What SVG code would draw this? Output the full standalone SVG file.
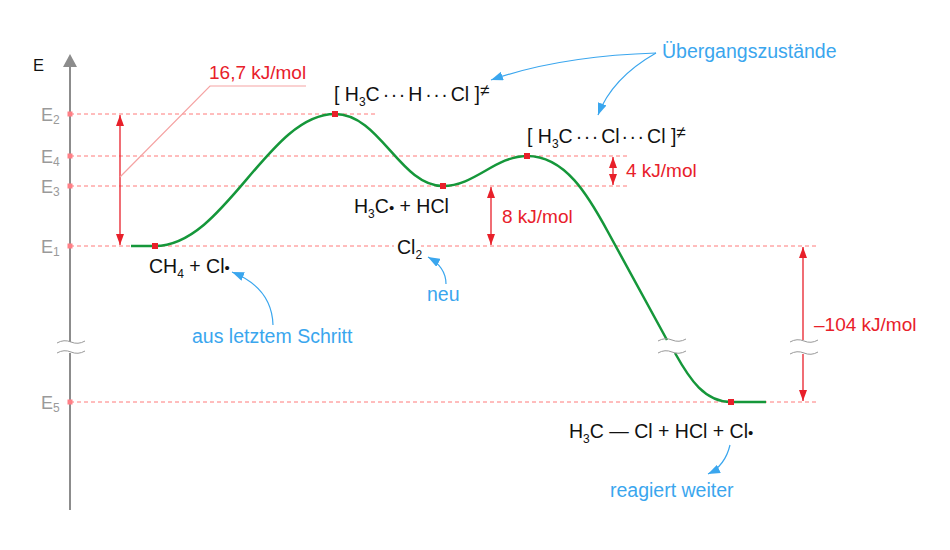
<svg xmlns="http://www.w3.org/2000/svg" width="950" height="550" viewBox="0 0 950 550">
<defs>
<style>
text{font-family:"Liberation Sans",Arial,sans-serif;}
.lbl{font-size:19.5px;fill:#111;}
.blue{font-size:19.5px;fill:#3aa6ee;}
.red{font-size:19px;fill:#e8202a;}
.elab{font-size:18px;fill:#9a9a9a;}
.sub{font-size:12px;}
.dots{letter-spacing:1.5px;}
.bul{font-size:15px;}
.dash{stroke:#ff7b7b;stroke-width:1;stroke-dasharray:4 3;fill:none;}
.lvl{fill:#ff7f86;}
.pt{fill:#e8202a;}
.curve{stroke:#15973a;stroke-width:2.5;fill:none;}
.dim{stroke:#e8202a;stroke-width:1.3;fill:none;}
.note{stroke:#3aa6ee;stroke-width:1.2;fill:none;marker-end:url(#ba);}
.wave{stroke:#999;stroke-width:1;fill:none;}
</style>
<marker id="ra" viewBox="0 0 11 8" refX="11" refY="4" markerWidth="11" markerHeight="8" markerUnits="userSpaceOnUse" orient="auto-start-reverse"><path d="M0,0 L11,4 L0,8 z" fill="#e8202a"/></marker>
<marker id="ba" viewBox="0 0 12 9" refX="12" refY="4.5" markerWidth="12" markerHeight="9" markerUnits="userSpaceOnUse" orient="auto"><path d="M0,0 L12,4.5 L0,9 z" fill="#3aa6ee"/></marker>
</defs>
<rect width="950" height="550" fill="#fff"/>

<g id="levels">
<line class="dash" x1="70" y1="114" x2="378" y2="114"/>
<line class="dash" x1="70" y1="156" x2="627" y2="156"/>
<line class="dash" x1="70" y1="186" x2="627" y2="186"/>
<line class="dash" x1="70" y1="246" x2="816" y2="246"/>
<line class="dash" x1="70" y1="402" x2="816" y2="402"/>
<rect x="394" y="239" width="27" height="11" fill="#fff"/>
</g>

<g id="axis">
<line x1="70" y1="62" x2="70" y2="342" stroke="#8c8c8c" stroke-width="2"/>
<line x1="70" y1="353" x2="70" y2="510" stroke="#8c8c8c" stroke-width="2"/>
<path d="M70,54 L63,67 L77,67 z" fill="#8c8c8c"/>
<path class="wave" d="M57,343 Q64,339 71,342 T85,341"/>
<path class="wave" d="M57,353 Q64,349 71,352 T85,351"/>
<text x="33" y="71" style="font-size:16.5px;fill:#111">E</text>
<rect class="lvl" x="67.5" y="111.5" width="5" height="5"/>
<rect class="lvl" x="67.5" y="153.5" width="5" height="5"/>
<rect class="lvl" x="67.5" y="183.5" width="5" height="5"/>
<rect class="lvl" x="67.5" y="243.5" width="5" height="5"/>
<rect class="lvl" x="67.5" y="399.5" width="5" height="5"/>
<text class="elab" x="41" y="121">E<tspan class="sub" dy="3">2</tspan></text>
<text class="elab" x="41" y="163">E<tspan class="sub" dy="3">4</tspan></text>
<text class="elab" x="41" y="193">E<tspan class="sub" dy="3">3</tspan></text>
<text class="elab" x="41" y="253">E<tspan class="sub" dy="3">1</tspan></text>
<text class="elab" x="41" y="409">E<tspan class="sub" dy="3">5</tspan></text>
</g>

<g id="curve">
<path class="curve" d="M131,246 L155,246 C225,246 268,114 335,114 C380,114 400,186 443,186 C475,186 495,156 527,156 C565,156 588,195 608,232 L667,340"/>
<path class="curve" d="M675,353 C690,380 705,402 731,402 L766,402"/>
<path class="wave" d="M658,341 Q665,337 672,340 T686,339"/>
<path class="wave" d="M658,353 Q665,349 672,352 T686,351"/>
<rect class="pt" x="152" y="243" width="6" height="6"/>
<rect class="pt" x="332" y="111" width="6" height="6"/>
<rect class="pt" x="440" y="183" width="6" height="6"/>
<rect class="pt" x="524" y="153" width="6" height="6"/>
<rect class="pt" x="728" y="399" width="6" height="6"/>
</g>

<g id="dimensions">
<line class="dim" x1="120" y1="115" x2="120" y2="245" marker-start="url(#ra)" marker-end="url(#ra)"/>
<path d="M306,86 L210,86 L120,177" stroke="#f5a3a3" stroke-width="1.2" fill="none"/>
<text class="red" x="209" y="79">16,7 kJ/mol</text>
<line class="dim" x1="491" y1="187" x2="491" y2="245" marker-start="url(#ra)" marker-end="url(#ra)"/>
<text class="red" x="502" y="223">8 kJ/mol</text>
<line class="dim" x1="613" y1="157" x2="613" y2="185" marker-start="url(#ra)" marker-end="url(#ra)"/>
<text class="red" x="626" y="177">4 kJ/mol</text>
<line class="dim" x1="803" y1="247" x2="803" y2="340" marker-start="url(#ra)"/>
<line class="dim" x1="803" y1="354" x2="803" y2="401" marker-end="url(#ra)"/>
<path class="wave" d="M790,342 Q797,338 804,341 T818,340"/>
<path class="wave" d="M790,354 Q797,350 804,353 T818,352"/>
<text class="red" x="814" y="331">–104 kJ/mol</text>
</g>

<g id="species">
<text class="lbl" x="334" y="101">[ H<tspan class="sub" dy="5">3</tspan><tspan dy="-5">C</tspan><tspan class="dots" dx="3">···</tspan><tspan dx="1.5">H</tspan><tspan class="dots" dx="3">···</tspan><tspan dx="1.5">Cl ]</tspan><tspan dy="-5" style="font-size:17px">≠</tspan></text>
<text class="lbl" x="527" y="143">[ H<tspan class="sub" dy="5">3</tspan><tspan dy="-5">C</tspan><tspan class="dots" dx="3">···</tspan><tspan dx="1.5">Cl</tspan><tspan class="dots" dx="2">···</tspan><tspan dx="1.5">Cl ]</tspan><tspan dy="-5" style="font-size:17px">≠</tspan></text>
<text class="lbl" x="354" y="213">H<tspan class="sub" dy="5">3</tspan><tspan dy="-5">C</tspan><tspan class="bul">•</tspan> + HCl</text>
<text class="lbl" x="397" y="254">Cl<tspan class="sub" dy="5">2</tspan></text>
<text class="lbl" x="149" y="273">CH<tspan class="sub" dy="5">4</tspan><tspan dy="-5"> + Cl</tspan><tspan class="bul">•</tspan></text>
<text class="lbl" x="569" y="438">H<tspan class="sub" dy="5">3</tspan><tspan dy="-5">C — Cl + HCl + Cl</tspan><tspan class="bul">•</tspan></text>
</g>

<g id="notes">
<text class="blue" x="662" y="58">Übergangszustände</text>
<text class="blue" x="427" y="301">neu</text>
<text class="blue" x="192" y="343">aus letztem Schritt</text>
<text class="blue" x="610" y="497">reagiert weiter</text>
</g>

<g id="connectors">
<path class="note" d="M656,53 Q560,56 491,80"/>
<path class="note" d="M656,53 Q612,78 598,115"/>
<path class="note" d="M273,325 Q272,288 232,272"/>
<path class="note" d="M446,284 Q446,267 428,257"/>
<path class="note" d="M730,445 Q725,466 708,474"/>
</g>
</svg>
